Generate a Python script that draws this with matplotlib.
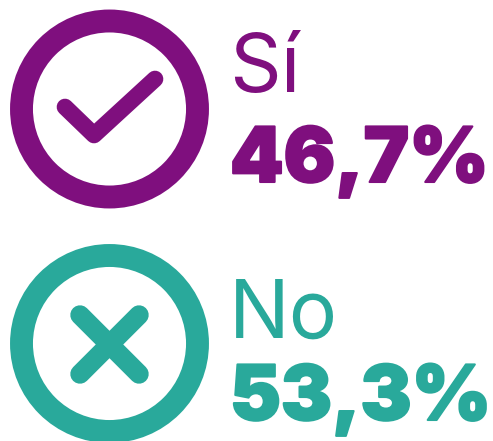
import matplotlib
matplotlib.use('Agg')
import matplotlib.pyplot as plt
import matplotlib.patheffects as pe
from matplotlib.patches import Circle

LABELS = ['Sí', 'No']
VALUES = ['46,7%', '53,3%']
COLORS = ['#7F0F7E', '#29A99B']
# icon strokes, pixel coords of the picture
CHECK = [[(65, 107), (94, 135), (155, 79)]]
CROSS = [[(80, 315), (139, 374)], [(139, 315), (80, 374)]]
ICONS = [CHECK, CROSS]
ICON_LW = [12, 14]
CENTERS = [(109.5, 109), (109.5, 343.5)]
LABEL_Y = [92, 338]
VALUE_Y = [182, 420]

fig = plt.figure(figsize=(4.93, 4.41), dpi=100)
ax = fig.add_axes([0, 0, 1, 1])
ax.set_xlim(0, 493)
ax.set_ylim(441, 0)
ax.axis('off')

for i in range(2):
    ax.add_patch(Circle(CENTERS[i], 88, fill=False, ec=COLORS[i], lw=16.5))
    for stroke in ICONS[i]:
        xs = [p[0] for p in stroke]
        ys = [p[1] for p in stroke]
        ax.plot(xs, ys, color=COLORS[i], lw=ICON_LW[i], solid_capstyle='round', solid_joinstyle='round')
    ax.text(229, LABEL_Y[i], LABELS[i], color=COLORS[i], fontsize=58, family='Inter',
            fontweight='normal', va='baseline', ha='left')
    ax.text(230, VALUE_Y[i], VALUES[i], color=COLORS[i], fontsize=55, family='Inter',
            fontweight='black', va='baseline', ha='left',
            path_effects=[pe.withStroke(linewidth=1.5, foreground=COLORS[i])])

fig.savefig('out.png', dpi=100)
